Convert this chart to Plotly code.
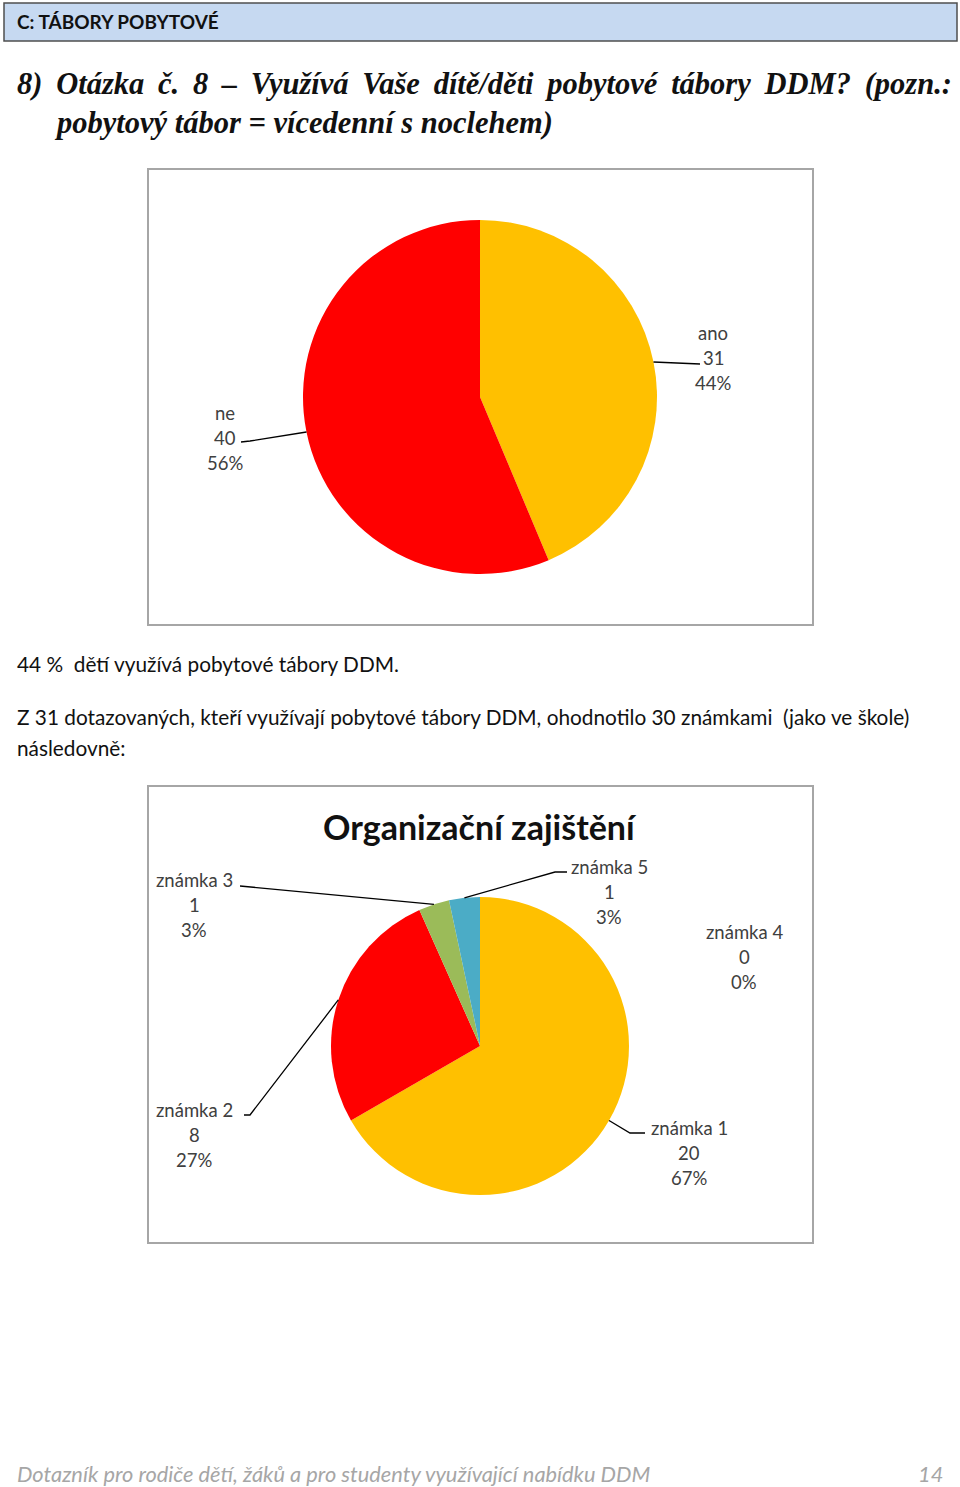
import math
import plotly.graph_objects as go

W, H = 960, 1487

# ---- data ----
q8_labels = ["ano", "ne"]
q8_values = [31, 40]
q8_colors = ["#FFC000", "#FF0000"]

grade_labels = ["známka 1", "známka 2", "známka 3", "známka 4", "známka 5"]
grade_values = [20, 8, 1, 0, 1]
grade_colors = ["#FFC000", "#FF0000", "#9BBB59", "#8064A2", "#4BACC6"]

header_text = "C: TÁBORY POBYTOVÉ"
question_line1 = "8) Otázka č. 8 – Využívá Vaše dítě/děti pobytové tábory DDM? (pozn.:"
question_line2 = "pobytový tábor = vícedenní s noclehem)"
body_line1 = "44 %  dětí využívá pobytové tábory DDM."
body_line2 = "Z 31 dotazovaných, kteří využívají pobytové tábory DDM, ohodnotilo 30 známkami  (jako ve škole)"
body_line3 = "následovně:"
chart2_title = "Organizační zajištění"
footer_text = "Dotazník pro rodiče dětí, žáků a pro studenty využívající nabídku DDM"
page_number = "14"


def X(x):
    return x / W


def Y(y):
    return 1 - y / H


SANS = "Lato, Calibri, sans-serif"
SERIF = "Liberation Serif, Cambria, serif"

fig = go.Figure()
shapes = []
annotations = []


def add_pie(values, labels, colors, cx, cy, r, label_pos, elbows):
    fig.add_trace(go.Pie(
        values=values, labels=labels, sort=False, direction="clockwise",
        rotation=0, marker=dict(colors=colors, line=dict(width=0)),
        textinfo="none", hoverinfo="label+value+percent", showlegend=False,
        domain=dict(x=[X(cx - r), X(cx + r)], y=[Y(cy + r), Y(cy - r)]),
    ))
    total = sum(values)
    cum = 0
    for lab, v in zip(labels, values):
        mid = (cum + v / 2) / total * 2 * math.pi
        cum += v
        pct = round(100 * v / total)
        lx, ly = label_pos[lab]
        for i, t in enumerate([lab, str(v), f"{pct}%"]):
            annotations.append(dict(
                x=X(lx), y=Y(ly + 25 * (i - 1)), xref="paper", yref="paper",
                text=t, showarrow=False, xanchor="center", yanchor="middle",
                font=dict(family=SANS, size=18.5, color="#404040"),
            ))
        if v > 0 and lab in elbows:
            ex = cx + r * math.sin(mid)
            ey = cy - r * math.cos(mid)
            pts = [(ex, ey)] + elbows[lab]
            path = "M " + " L ".join(f"{X(a)},{Y(b)}" for a, b in pts)
            shapes.append(dict(type="path", xref="paper", yref="paper", path=path,
                               line=dict(color="black", width=1.3)))


# header box
shapes.append(dict(type="rect", xref="paper", yref="paper", x0=X(4), x1=X(957), y0=Y(41), y1=Y(3),
                   fillcolor="#C6D9F1", line=dict(color="#4F4F4F", width=1.5), layer="below"))
annotations.append(dict(x=X(15), y=Y(21), xref="paper", yref="paper", text=f"<b>{header_text}</b>",
                        showarrow=False, xanchor="left", yanchor="middle",
                        font=dict(family=SANS, size=19, color="#111")))

# question (first line justified in the original: slightly wider word gaps)
q1 = " \u2009".join(question_line1.split(" "))
for txt, xx, yy in [(q1, 15, 84), (question_line2, 52, 123)]:
    annotations.append(dict(x=X(xx), y=Y(yy), xref="paper", yref="paper", text=f"<b><i>{txt}</i></b>",
                            showarrow=False, xanchor="left", yanchor="middle",
                            font=dict(family=SERIF, size=30.5, color="#111")))

# chart boxes
for y0, y1 in [(169, 625), (786, 1243)]:
    shapes.append(dict(type="rect", xref="paper", yref="paper", x0=X(148), x1=X(813), y0=Y(y1), y1=Y(y0),
                       line=dict(color="#A6A6A6", width=2), fillcolor="rgba(0,0,0,0)"))

# pie 1
add_pie(q8_values, q8_labels, q8_colors, 480, 397, 177,
        {"ano": (713, 358), "ne": (225, 438)},
        {"ano": [(700, 364)], "ne": [(250, 441), (241, 442)]})

# body text
for txt, yy in [(body_line1, 664), (body_line2, 716), (body_line3, 747)]:
    annotations.append(dict(x=X(15), y=Y(yy), xref="paper", yref="paper", text=txt.replace("  ", "\u00a0\u00a0"),
                            showarrow=False, xanchor="left", yanchor="middle",
                            font=dict(family=SANS, size=20.8, color="#111")))

# pie 2 title
annotations.append(dict(x=X(480), y=Y(826), xref="paper", yref="paper", text=f"<b>{chart2_title}</b>",
                        showarrow=False, xanchor="center", yanchor="middle",
                        font=dict(family=SANS, size=34, color="#111")))

add_pie(grade_values, grade_labels, grade_colors, 480, 1046, 149,
        {"známka 1": (689, 1153), "známka 2": (194, 1135), "známka 3": (194, 905),
         "známka 4": (744, 957), "známka 5": (609, 892)},
        {"známka 1": [(630, 1133), (645, 1133)],
         "známka 2": [(250, 1115), (244, 1115)],
         "známka 3": [(240, 886)],
         "známka 5": [(555, 872), (567, 872)]})

# footer
annotations.append(dict(x=X(15), y=Y(1473), xref="paper", yref="paper", text=f"<i>{footer_text}</i>",
                        showarrow=False, xanchor="left", yanchor="middle",
                        font=dict(family=SANS, size=21.8, color="#A6A6A6")))
annotations.append(dict(x=X(945), y=Y(1473), xref="paper", yref="paper", text=f"<i>{page_number}</i>",
                        showarrow=False, xanchor="right", yanchor="middle",
                        font=dict(family=SANS, size=21.8, color="#A6A6A6")))

fig.update_layout(width=W, height=H, autosize=False, margin=dict(l=0, r=0, t=0, b=0),
                  paper_bgcolor="white", plot_bgcolor="white",
                  shapes=shapes, annotations=annotations)

fig.write_html("out.html", config={"displayModeBar": False})
